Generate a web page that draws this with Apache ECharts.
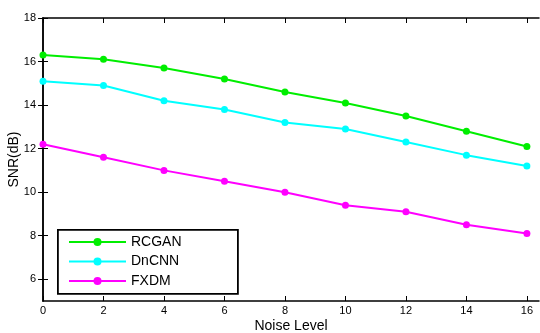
<!DOCTYPE html>
<html>
<head>
<meta charset="utf-8">
<script src="https://cdn.jsdelivr.net/npm/echarts@6/dist/echarts.min.js"></script>
<style>
  html, body { margin: 0; padding: 0; background: #fff; }
  #chart { width: 540px; height: 333px; }
</style>
</head>
<body>
<div id="chart"></div>
<script>
const noiseLevels = [0, 2, 4, 6, 8, 10, 12, 14, 16];
const rcgan = [16.3, 16.1, 15.7, 15.2, 14.6, 14.1, 13.5, 12.8, 12.1];
const dncnn = [15.1, 14.9, 14.2, 13.8, 13.2, 12.9, 12.3, 11.7, 11.2];
const fxdm = [12.2, 11.6, 11.0, 10.5, 10.0, 9.4, 9.1, 8.5, 8.1];
const xTicks = [0, 2, 4, 6, 8, 10, 12, 14, 16];
const yTicks = [6, 8, 10, 12, 14, 16, 18];

const font = "'Liberation Sans', Arial, sans-serif";
const chart = echarts.init(document.getElementById("chart"));

const mkSeries = (name, vals, color) => ({
    name,
    type: "line",
    data: noiseLevels.map((x, i) => [x, vals[i]]),
    symbol: "circle",
    symbolSize: 7,
    lineStyle: { color, width: 2 },
    itemStyle: { color },
    animation: false
});

const axisBase = {
    type: "value",
    axisLine: { show: true, lineStyle: { color: "#000", width: 1.5 } },
    axisTick: { show: true, inside: true, length: 5, lineStyle: { color: "#000" } },
    splitLine: { show: false }
};

chart.setOption({
    backgroundColor: "#fff",
    grid: { left: 43, top: 18, right: 1, bottom: 32, containLabel: false, outerBoundsMode: "none" },
    xAxis: [
        {
            ...axisBase,
            min: 0, max: 16.4,
            position: "bottom",
            name: "Noise Level",
            nameLocation: "middle",
            nameGap: 18,
            nameMoveOverlap: false,
            nameTextStyle: { fontFamily: font, fontSize: 14, color: "#000" },
            axisTick: { ...axisBase.axisTick, customValues: xTicks },
            axisLabel: { customValues: xTicks, fontFamily: font, fontSize: 11, color: "#000", margin: 4 }
        },
        {
            ...axisBase,
            min: 0, max: 16.4,
            position: "top",
            axisTick: { ...axisBase.axisTick, customValues: xTicks },
            axisLabel: { show: false }
        }
    ],
    yAxis: [
        {
            ...axisBase,
            min: 5, max: 18,
            position: "left",
            name: "SNR(dB)",
            nameLocation: "middle",
            nameGap: 22,
            nameMoveOverlap: false,
            nameTextStyle: { fontFamily: font, fontSize: 14, color: "#000" },
            axisTick: { ...axisBase.axisTick, customValues: yTicks },
            axisLabel: { customValues: yTicks, fontFamily: font, fontSize: 11, color: "#000", margin: 7 }
        },
        {
            ...axisBase,
            min: 5, max: 18,
            position: "right",
            axisTick: { ...axisBase.axisTick, customValues: yTicks },
            axisLabel: { show: false }
        }
    ],
    legend: {
        orient: "vertical",
        left: 68,
        top: 235,
        padding: 0,
        z: 10,
        itemWidth: 57,
        itemHeight: 10,
        itemGap: 5.5,
        textStyle: { fontFamily: font, fontSize: 14, color: "#000" },
        data: ["RCGAN", "DnCNN", "FXDM"]
    },
    graphic: [{
        type: "rect",
        left: 57, top: 229,
        shape: { width: 180, height: 64 },
        style: { fill: "#fff", stroke: "#000", lineWidth: 1.8 },
        z: 5
    }],
    series: [
        mkSeries("RCGAN", rcgan, "#00ee00"),
        mkSeries("DnCNN", dncnn, "#00ffff"),
        mkSeries("FXDM", fxdm, "#ff00ff")
    ]
});
</script>
</body>
</html>
